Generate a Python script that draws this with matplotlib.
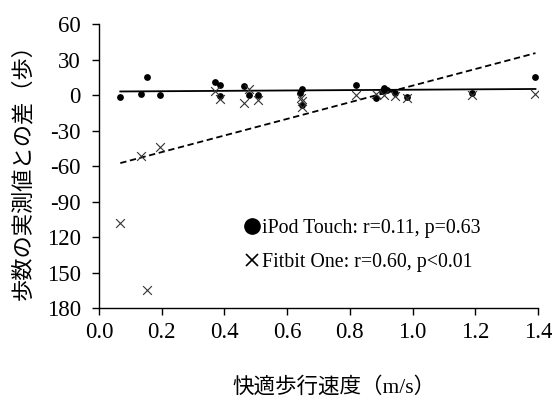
import matplotlib
matplotlib.use('Agg')
import matplotlib.pyplot as plt
from matplotlib.lines import Line2D
import numpy as np

# 快適歩行速度 (m/s) と 実測値との差 (歩)
ipod_speed = [0.068, 0.135, 0.154, 0.195, 0.371, 0.386, 0.385, 0.464, 0.478, 0.506,
              0.646, 0.642, 0.646, 0.821, 0.885, 0.908, 0.901, 0.917, 0.943, 0.981,
              1.189, 1.392]
ipod_diff = [-1.4, 1.1, 15.2, -0.3, 11.2, 8.4, -1.2, 7.6, 0.0, 0.0,
             5.0, 2.0, -8.5, 8.7, -2.5, 5.9, 3.6, 4.2, 1.9, -2.0,
             1.7, 15.2]

fitbit_speed = [0.068, 0.135, 0.154, 0.195, 0.369, 0.385, 0.464, 0.480, 0.507,
                0.643, 0.646, 0.648, 0.821, 0.883, 0.908, 0.943, 0.981, 1.189, 1.392]
fitbit_diff = [-108.2, -51.9, -164.5, -43.7, 3.0, -3.7, -6.5, 5.3, -4.2,
               -2.9, -4.8, -10.5, 0.3, 0.8, -0.3, -1.2, -2.3, -0.3, 0.5]

# regression lines (intercept, slope)
ipod_fit = (2.89, 1.59)
fitbit_fit = (-62.3, 70.2)
fit_range = [0.068, 1.392]

yticks = [60, 30, 0, -30, -60, -90, -120, -150, -180]
ytick_labels = ['60', '30', '0', '-30', '-60', '-90', '120', '150', '180']
xticks = [0.0, 0.2, 0.4, 0.6, 0.8, 1.0, 1.2, 1.4]

serif = ['Liberation Serif', 'Noto Sans CJK JP']
jp = ['Noto Sans CJK JP', 'Liberation Serif']

fig = plt.figure(figsize=(5.52, 4.01), dpi=100)
ax = fig.add_axes([0.1793, 0.2319, 0.7953, 0.7082])

ax.scatter(ipod_speed, ipod_diff, s=24, color='black', marker='o', linewidths=0, zorder=3)
ax.scatter(fitbit_speed, fitbit_diff, s=40, color='#333333', marker='x', linewidths=0.8, zorder=3)

xs = np.array(fit_range)
ax.plot(xs, ipod_fit[0] + ipod_fit[1] * xs, color='black', lw=1.3)
ax.plot(xs, fitbit_fit[0] + fitbit_fit[1] * xs, color='black', lw=1.3, ls=(0, (3.5, 2)))

ax.set_xlim(0, 1.4)
ax.set_ylim(-180, 60)
ax.set_xticks(xticks)
ax.set_xticklabels(['%.1f' % v for v in xticks], family=serif, fontsize=16.5)
ax.set_yticks(yticks)
ax.set_yticklabels(ytick_labels, family=serif, fontsize=16.5)
ax.tick_params(axis='x', direction='out', length=5, width=1, pad=5)
ax.tick_params(axis='y', direction='out', length=5, width=1, pad=8)
for s in ['top', 'right']:
    ax.spines[s].set_visible(False)
for s in ['left', 'bottom']:
    ax.spines[s].set_linewidth(1)

# m/s is set in the serif face, kanji fall through to Noto
ax.set_xlabel('快適歩行速度（m/s）', family=serif, fontsize=15.5)
ax.xaxis.set_label_coords(0.535, -0.245)
ax.set_ylabel('歩数の実測値との差（歩）', family=jp, fontsize=16)
ax.yaxis.set_label_coords(-0.148, 0.5)

handles = [
    Line2D([], [], marker='o', color='black', ls='none', markersize=11),
    Line2D([], [], marker='x', color='black', ls='none', markersize=8, markeredgewidth=1.2),
]
labels = ['iPod Touch: r=0.11, p=0.63', 'Fitbit One: r=0.60, p<0.01']
ax.legend(handles, labels, loc='center left', bbox_to_anchor=(0.295, 0.22),
          frameon=False, handlelength=0.6, handletextpad=0.2, labelspacing=0.75,
          prop={'family': 'Liberation Serif', 'size': 14.3})

fig.savefig('out.png', dpi=100)
